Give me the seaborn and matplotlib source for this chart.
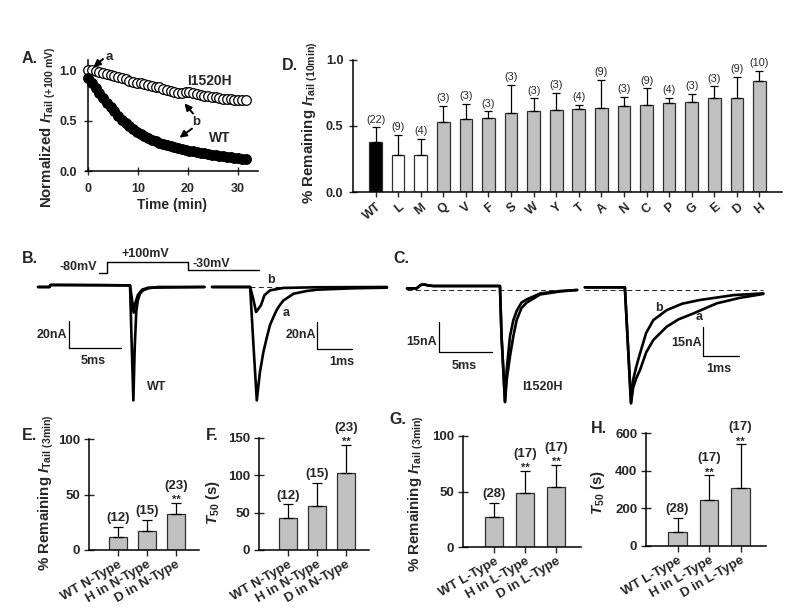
import matplotlib
matplotlib.use('Agg')
import matplotlib.pyplot as plt
from matplotlib.ticker import FormatStrFormatter
import numpy as np
import pandas as pd
import seaborn as sns

sns.set_style('ticks')
plt.rcParams['font.family'] = ['Liberation Sans', 'DejaVu Sans']
plt.rcParams['font.weight'] = 'bold'
plt.rcParams['mathtext.fontset'] = 'custom'
plt.rcParams['mathtext.rm'] = 'Liberation Sans'
plt.rcParams['mathtext.it'] = 'Liberation Sans:italic:bold'
plt.rcParams['mathtext.bf'] = 'Liberation Sans:bold'
plt.rcParams['axes.linewidth'] = 1.1
plt.rcParams['axes.edgecolor'] = 'black'

# ---- A: normalized tail current vs time
time_min = [0, 0.75, 1.5, 2.25, 3, 3.75, 4.5, 5.25, 6, 6.75, 7.5, 8.25, 9, 9.75,
            10.5, 11.25, 12, 12.75, 13.5, 14.25, 15, 15.75, 16.5, 17.25, 18, 18.75,
            19.5, 20.25, 21, 21.75, 22.5, 23.25, 24, 24.75, 25.5, 26.25, 27, 27.75,
            28.5, 29.25, 30, 30.75, 31.5]
wt_norm = [0.92, 0.87, 0.82, 0.77, 0.72, 0.67, 0.63, 0.59, 0.55, 0.51, 0.48, 0.45,
           0.42, 0.39, 0.37, 0.35, 0.33, 0.31, 0.30, 0.28, 0.27, 0.26, 0.25, 0.24,
           0.23, 0.22, 0.21, 0.20, 0.20, 0.19, 0.18, 0.18, 0.17, 0.16, 0.16, 0.15,
           0.15, 0.14, 0.14, 0.13, 0.13, 0.12, 0.12]
i1520h_norm = [1.00, 1.00, 0.99, 0.98, 0.97, 0.96, 0.95, 0.94, 0.93, 0.92, 0.91, 0.89,
               0.88, 0.87, 0.87, 0.86, 0.85, 0.84, 0.83, 0.83, 0.81, 0.80, 0.79, 0.78,
               0.77, 0.77, 0.78, 0.78, 0.77, 0.76, 0.75, 0.74, 0.74, 0.73, 0.73, 0.72,
               0.71, 0.71, 0.71, 0.70, 0.70, 0.70, 0.70]

# ---- D: remaining tail current at 10 min for each substitution
mutants = ['WT', 'L', 'M', 'Q', 'V', 'F', 'S', 'W', 'Y', 'T', 'A', 'N', 'C', 'P',
           'G', 'E', 'D', 'H']
remaining_10min = [0.38, 0.28, 0.28, 0.53, 0.55, 0.56, 0.60, 0.61, 0.62, 0.63, 0.635,
                   0.65, 0.66, 0.675, 0.685, 0.71, 0.71, 0.84]
err_10min = [0.11, 0.15, 0.12, 0.12, 0.12, 0.05, 0.21, 0.10, 0.13, 0.03, 0.215, 0.07,
             0.125, 0.04, 0.06, 0.09, 0.16, 0.08]
n_10min = [22, 9, 4, 3, 3, 3, 3, 3, 3, 4, 9, 3, 9, 4, 3, 3, 9, 10]

# ---- E-H: N-type and L-type summaries
n_type = ['WT N-Type', 'H in N-Type', 'D in N-Type']
l_type = ['WT L-Type', 'H in L-Type', 'D in L-Type']
rem3_n, rem3_n_err, rem3_n_cnt, rem3_n_sig = [12, 17, 32], [8.7, 10, 10.6], [12, 15, 23], ['', '', '**']
t50_n, t50_n_err, t50_n_cnt, t50_n_sig = [42.8, 59, 103.5], [18.2, 31, 37], [12, 15, 23], ['', '', '**']
rem3_l, rem3_l_err, rem3_l_cnt, rem3_l_sig = [27.3, 48.6, 54.3], [12.1, 20.2, 19.7], [28, 17, 17], ['', '**', '**']
t50_l, t50_l_err, t50_l_cnt, t50_l_sig = [76, 244, 310], [73, 131, 230], [28, 17, 17], ['', '**', '**']

# ---- B/C: current traces (ms, nA)
wt_full_a_t = [0, 1.1, 1.2, 3, 6, 8.85, 9.0, 9.17, 9.3, 9.45, 9.6, 9.8, 10.1, 10.6, 11.5, 16]
wt_full_a_i = [0, 0, 1.5, 1.5, 1.4, 1.2, -40, -84, -45, -18, -10, -5, -2.5, -1, 0, 0]
wt_full_b_t = [0, 1.1, 1.2, 8.85, 9.05, 9.2, 9.35, 9.6, 10.0, 10.6, 16]
wt_full_b_i = [0, 0, 1.5, 1.2, -10, -19, -12, -6, -2, -0.5, 0]
wt_zoom_a_t = [0, 1.09, 1.18, 1.28, 1.37, 1.47, 1.57, 1.66, 1.76, 1.85, 1.95, 2.04, 2.33, 2.7, 3.0, 4.0, 5.0]
wt_zoom_a_i = [0, 0, -41, -84, -63, -48, -37, -28, -22, -17, -13, -10, -5, -3, -2, -1, -0.5]
wt_zoom_b_t = [0, 1.09, 1.18, 1.26, 1.33, 1.4, 1.5, 1.66, 2.04, 3.0, 5.0]
wt_zoom_b_i = [0, 0, -9, -18.5, -16, -13.5, -6, -2.5, -0.7, -0.2, 0]

h_full_t = [0, 0.9, 1.3, 1.6, 2.0, 2.5, 8.85, 9.0, 9.33, 9.49, 9.81, 10.13, 10.44, 10.9, 11.4, 12.7, 14.6, 16.2]
h_full_a_i = [0.8, 0.8, 2.5, 2.8, 2.3, 2.0, 2.0, -23, -56, -45, -33, -23, -15, -9, -6.3, -2.2, -0.7, 0]
h_full_b_i = [0.8, 0.8, 2.5, 2.8, 2.3, 2.0, 2.0, -23, -56, -40, -23, -15, -10.5, -6.3, -4.7, -1.7, -0.5, 0]
h_zoom_a_t = [0, 1.11, 1.2, 1.28, 1.34, 1.43, 1.53, 1.7, 1.9, 2.27, 2.6, 3.01, 3.66, 4.3, 4.95]
h_zoom_a_i = [1.4, 1.4, -30, -58, -50, -45, -41, -32, -25.6, -18.8, -15, -12, -6.8, -4, -2]
h_zoom_b_t = [0, 1.11, 1.2, 1.28, 1.34, 1.43, 1.53, 1.7, 1.9, 2.27, 2.7, 3.19, 4.12, 4.95]
h_zoom_b_i = [1.4, 1.4, -30, -58, -46, -39, -32.5, -22, -15.4, -10.3, -7, -5.1, -2.6, -1.7]

protocol_t = [0, 0.77, 0.77, 8.55, 8.55, 15.4]
protocol_mv = [-80, -80, 100, 100, -30, -30]

W, H = 800, 615
fig = plt.figure(figsize=(8, 6.15), dpi=100)


def add_ax(x0, x1, ytop, ybot):
    return fig.add_axes([x0 / W, 1 - ybot / H, (x1 - x0) / W, (ybot - ytop) / H])


def ftext(x, y, s, **kw):
    fig.text(x / W, 1 - y / H, s, **kw)


TICK = 9
YLAB = 10.8
PANEL = 11.5
ARROW = dict(arrowstyle='-|>', color='black', lw=1.4, mutation_scale=10,
             shrinkA=0, shrinkB=0)

# ================= A =================
axA = add_ax(85.5, 258, 58, 171)
sns.scatterplot(x=time_min, y=i1520h_norm, ax=axA, s=48, facecolor='white',
                edgecolor='black', linewidth=0.9, clip_on=False, zorder=3)
sns.scatterplot(x=time_min, y=wt_norm, ax=axA, s=48, color='black',
                edgecolor='black', linewidth=0.9, clip_on=False, zorder=4)
axA.set_xlim(-0.5, 34)
axA.set_ylim(0, 1.12)
axA.spines[['top', 'right']].set_visible(False)
axA.spines['left'].set_position(('data', 0))
axA.spines['left'].set_bounds(0, 1.1)
axA.set_xticks([0, 10, 20, 30])
axA.set_yticks([0, 0.5, 1.0])
axA.yaxis.set_major_formatter(FormatStrFormatter('%.1f'))
axA.tick_params(axis='x', direction='inout', length=6, width=1, labelsize=TICK, pad=6)
axA.tick_params(axis='y', direction='inout', length=6, width=1, labelsize=TICK, pad=5)
axA.set_xlabel('Time (min)', fontsize=10, fontweight='bold', labelpad=2)
axA.annotate('', xy=(1.1, 1.03), xytext=(3.0, 1.11), annotation_clip=False, arrowprops=ARROW)
axA.text(3.5, 1.13, 'a', fontsize=9.5, ha='left', va='center', fontweight='bold')
axA.text(24.2, 0.85, 'I1520H', fontsize=10, ha='center', va='baseline', fontweight='bold')
axA.text(21.6, 0.49, 'b', fontsize=9.5, ha='center', va='center', fontweight='bold')
axA.annotate('', xy=(19.3, 0.67), xytext=(21.0, 0.57), arrowprops=ARROW)
axA.annotate('', xy=(18.3, 0.33), xytext=(20.8, 0.42), arrowprops=ARROW)
axA.text(26.4, 0.33, 'WT', fontsize=10, ha='center', va='center', fontweight='bold')
ftext(48, 127, r'Normalized $\mathit{I}_{\mathrm{Tail\ (+100\ mV)}}$', rotation=90,
      ha='center', va='center', fontsize=YLAB, fontweight='bold')
ftext(22, 63, 'A.', fontsize=PANEL, fontweight='bold', va='baseline')

# ================= D =================
axD = add_ax(353, 782, 60, 192)
dfD = pd.DataFrame({'mutant': mutants, 'remaining': remaining_10min})
paletteD = ['black', 'white', 'white'] + ['#c0c0c0'] * (len(mutants) - 3)
sns.barplot(data=dfD, x='mutant', y='remaining', hue='mutant', palette=paletteD,
            legend=False, width=0.56, edgecolor='#303030', linewidth=0.9,
            errorbar=None, ax=axD)
axD.errorbar(np.arange(len(mutants)), remaining_10min,
             yerr=[np.zeros(len(mutants)), err_10min], fmt='none', ecolor='black',
             elinewidth=0.9, capsize=2.9, capthick=0.9, zorder=5)
for i, (v, e, n) in enumerate(zip(remaining_10min, err_10min, n_10min)):
    axD.annotate(f'({n})', (i, v + e), xytext=(0, 2), textcoords='offset points',
                 ha='center', va='bottom', fontsize=7.8, fontweight='normal',
                 annotation_clip=False)
axD.set_xlim(-1, 18)
axD.set_ylim(0, 1.0)
axD.spines[['top', 'right']].set_visible(False)
axD.set_yticks([0, 0.5, 1.0])
axD.yaxis.set_major_formatter(FormatStrFormatter('%.1f'))
axD.tick_params(axis='y', direction='inout', length=6, width=1, labelsize=TICK, pad=4)
axD.tick_params(axis='x', direction='out', length=3.5, width=1, labelsize=TICK, pad=3)
axD.set_xticks(np.arange(len(mutants)))
axD.set_xticklabels(mutants, rotation=40, ha='right', rotation_mode='anchor')
axD.set_xlabel('')
axD.set_ylabel('')
ftext(310, 123, r'% Remaining $\mathit{I}_{\mathrm{Tail\ (10min)}}$', rotation=90,
      ha='center', va='center', fontsize=YLAB, fontweight='bold')
ftext(282, 70, 'D.', fontsize=PANEL, fontweight='bold', va='baseline')

# ================= E-H =================


def bar_panel(ax, labels, vals, errs, counts, sigs, top, yticks):
    df = pd.DataFrame({'group': labels, 'value': vals})
    sns.barplot(data=df, x='group', y='value', color='#c0c0c0', edgecolor='#303030',
                linewidth=0.9, width=0.6, errorbar=None, ax=ax)
    ax.errorbar(np.arange(len(vals)), vals, yerr=[np.zeros(len(vals)), errs],
                fmt='none', ecolor='black', elinewidth=0.9, capsize=3.6,
                capthick=0.9, zorder=5)
    for i, (v, e, n, s) in enumerate(zip(vals, errs, counts, sigs)):
        if s:
            ax.annotate(s, (i, v + e), xytext=(0, -1.5), textcoords='offset points',
                        ha='center', va='bottom', fontsize=8, fontweight='bold',
                        annotation_clip=False)
            off = 8
        else:
            off = 2
        ax.annotate(f'({n})', (i, v + e), xytext=(0, off), textcoords='offset points',
                    ha='center', va='bottom', fontsize=9.5, fontweight='bold',
                    annotation_clip=False)
    ax.set_xlim(-1, 2.8)
    ax.set_ylim(0, top)
    ax.spines[['top', 'right']].set_visible(False)
    ax.set_yticks(yticks)
    ax.tick_params(axis='y', direction='inout', length=6.5, width=1, labelsize=TICK + 0.5, pad=3)
    ax.tick_params(axis='x', direction='out', length=4, width=1, labelsize=TICK + 0.5, pad=2)
    ax.set_xticks(np.arange(len(labels)))
    ax.set_xticklabels(labels, rotation=30, ha='right', rotation_mode='anchor')
    ax.set_xlabel('')
    ax.set_ylabel('')


axE = add_ax(89, 199.2, 439, 550)
bar_panel(axE, n_type, rem3_n, rem3_n_err, rem3_n_cnt, rem3_n_sig, 100, [0, 50, 100])
axF = add_ax(259, 369.2, 438, 550)
bar_panel(axF, n_type, t50_n, t50_n_err, t50_n_cnt, t50_n_sig, 150, [0, 50, 100, 150])
axG = add_ax(463, 580.8, 436, 547)
bar_panel(axG, l_type, rem3_l, rem3_l_err, rem3_l_cnt, rem3_l_sig, 100, [0, 50, 100])
axH = add_ax(646, 765.7, 433, 546)
bar_panel(axH, l_type, t50_l, t50_l_err, t50_l_cnt, t50_l_sig, 600, [0, 200, 400, 600])

rem_label = r'% Remaining $\mathit{I}_{\mathrm{Tail\ (3min)}}$'
t50_label = r'$\mathit{T}_{\mathrm{50}}$ (s)'
ftext(46, 493, rem_label, rotation=90, ha='center', va='center', fontsize=YLAB, fontweight='bold')
ftext(213, 503, t50_label, rotation=90, ha='center', va='center', fontsize=YLAB, fontweight='bold')
ftext(416, 494, rem_label, rotation=90, ha='center', va='center', fontsize=YLAB, fontweight='bold')
ftext(598, 493, t50_label, rotation=90, ha='center', va='center', fontsize=YLAB, fontweight='bold')
ftext(22, 440, 'E.', fontsize=PANEL, fontweight='bold', va='baseline')
ftext(206, 440, 'F.', fontsize=PANEL, fontweight='bold', va='baseline')
ftext(389, 424, 'G.', fontsize=PANEL, fontweight='bold', va='baseline')
ftext(591, 433, 'H.', fontsize=PANEL, fontweight='bold', va='baseline')

# ================= B / C traces =================
TR = dict(color='black', lw=1.9, solid_joinstyle='round', solid_capstyle='round')
SB = dict(color='black', lw=0.9)
LBL = dict(fontsize=9, fontweight='bold')

axP = add_ax(90, 270, 245, 285)
axP.plot(protocol_t, protocol_mv, color='black', lw=1.0)
axP.set_xlim(-0.87, 16.44)
axP.set_ylim(-271.5, 383)
axP.axis('off')
axP.text(-0.15, -80, '-80mV', ha='right', va='bottom', **LBL)
axP.text(4.5, 130, '+100mV', ha='center', va='bottom', **LBL)
axP.text(8.94, -30, '-30mV', ha='left', va='bottom', **LBL)

axBL = add_ax(30, 210, 245, 410)
axBL.plot(wt_full_b_t, wt_full_b_i, **TR)
axBL.plot(wt_full_a_t, wt_full_a_i, **TR)
axBL.plot([3.0, 3.0, 8.0], [-25, -45, -45], **SB)
axBL.text(2.8, -35.5, '20nA', ha='right', va='center', **LBL)
axBL.text(5.3, -50, '5ms', ha='center', va='top', **LBL)
axBL.text(10.5, -74, 'WT', ha='left', va='center', **LBL)
axBL.set_xlim(-0.77, 16.54)
axBL.set_ylim(-91.1, 31.1)
axBL.axis('off')

axBR = add_ax(205, 395, 245, 410)
axBR.plot([1.1, 5.0], [0, 0], color='black', lw=0.6, ls=(0, (6, 4)))
axBR.plot(wt_zoom_b_t, wt_zoom_b_i, **TR)
axBR.plot(wt_zoom_a_t, wt_zoom_a_i, **TR)
axBR.plot([3.0, 3.0, 4.0], [-26, -46, -46], **SB)
axBR.text(2.97, -35.5, '20nA', ha='right', va='center', **LBL)
axBR.text(3.7, -51, '1ms', ha='center', va='top', **LBL)
axBR.text(2.03, -19, 'a', ha='left', va='center', **LBL)
axBR.text(1.57, 1, 'b', ha='left', va='bottom', **LBL)
axBR.set_xlim(-0.2, 5.23)
axBR.set_ylim(-91.1, 31.1)
axBR.axis('off')

axCL = add_ax(400, 585, 245, 410)
axCL.plot([0, 16.2], [0, 0], color='black', lw=0.6, ls=(0, (6, 4)))
axCL.plot(h_full_t, h_full_b_i, **TR)
axCL.plot(h_full_t, h_full_a_i, **TR)
axCL.plot([3.05, 3.05, 8.05], [-16, -31, -31], **SB)
axCL.text(2.86, -26, '15nA', ha='right', va='center', **LBL)
axCL.text(5.4, -35, '5ms', ha='center', va='top', **LBL)
axCL.text(10.95, -48.5, 'I1520H', ha='left', va='center', **LBL)
axCL.set_xlim(-0.67, 16.95)
axCL.set_ylim(-60, 22.5)
axCL.axis('off')

axCR = add_ax(578, 790, 245, 410)
axCR.plot([0, 4.95], [0, 0], color='black', lw=0.6, ls=(0, (6, 4)))
axCR.plot(h_zoom_b_t, h_zoom_b_i, **TR)
axCR.plot(h_zoom_a_t, h_zoom_a_i, **TR)
axCR.plot([3.28, 3.28, 4.28], [-19, -34, -34], **SB)
axCR.text(3.25, -27, '15nA', ha='right', va='center', **LBL)
axCR.text(3.72, -37.4, '1ms', ha='center', va='top', **LBL)
axCR.text(2.06, -9, 'b', ha='center', va='center', **LBL)
axCR.text(3.18, -14, 'a', ha='center', va='center', **LBL)
axCR.set_xlim(-0.19, 5.69)
axCR.set_ylim(-61.5, 23.1)
axCR.axis('off')

ftext(22, 263, 'B.', fontsize=PANEL, fontweight='bold', va='baseline')
ftext(393, 263, 'C.', fontsize=PANEL, fontweight='bold', va='baseline')

fig.savefig('out.png', dpi=100)
